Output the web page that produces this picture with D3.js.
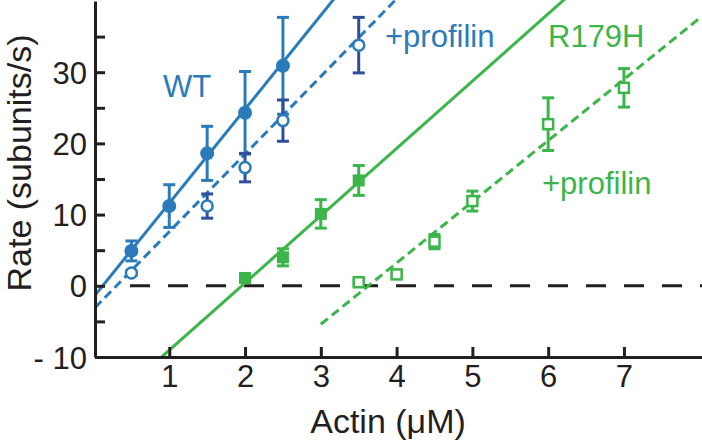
<!DOCTYPE html>
<html>
<head>
<meta charset="utf-8">
<script src="https://cdn.jsdelivr.net/npm/d3@7"></script>
<style>
  body { margin: 0; background: #fff; }
  svg { display: block; }
  text { font-family: "Liberation Sans", Arial, Helvetica, sans-serif; }
</style>
</head>
<body>
<svg id="chart" width="702" height="444"></svg>
<script>
// ---- data ----
const wtX = [0.5, 1, 1.5, 2, 2.5];
const wtY = [4.9, 11.2, 18.6, 24.3, 30.9];
const wtErr = [1.4, 3.0, 3.8, 5.8, 6.8];

const wtProfX = [0.5, 1.5, 2, 2.5, 3.5];
const wtProfY = [1.8, 11.2, 16.6, 23.2, 33.8];
const wtProfErr = [0.3, 1.7, 2.0, 2.9, 3.9];

const mutX = [2, 2.5, 3, 3.5];
const mutY = [1.1, 4.0, 10.1, 14.8];
const mutErr = [0.3, 1.2, 2.0, 2.1];

const mutProfX = [3.5, 4, 4.5, 5, 6, 7];
const mutProfY = [0.5, 1.6, 6.2, 11.9, 22.7, 27.8];
const mutProfErr = [0.2, 0.3, 1.0, 1.4, 3.7, 2.7];

// linear fits: [slope, intercept, xStart, xEnd]
const wtFit = [13.2, -1.6, 0.02, 3.3];
const wtProfFit = [10.9, -3.3, 0.02, 4.1];
const mutFit = [9.45, -18.5, 0.9, 6.3];
const mutProfFit = [8.6, -31.2, 3.0, 8.03];

const xTicks = [1, 2, 3, 4, 5, 6, 7];
const yTicks = [-10, -5, 0, 5, 10, 15, 20, 25, 30, 35];
const yTickLabels = { "-10": "- 10", "0": "0", "10": "10", "20": "20", "30": "30" };

// ---- styles ----
const BLUE = "#2b7bbb";
const DARKBLUE = "#2d4f9e";
const GREEN = "#3cb54a";
const INK = "#231f20";

const svg = d3.select("#chart");
const x = d3.scaleLinear().domain([0.02, 8.03]).range([95, 702]);
const y = d3.scaleLinear().domain([-10, 40]).range([357, 1]);

svg.append("defs").append("clipPath").attr("id", "plot")
  .append("rect").attr("x", x(0.02)).attr("y", 0)
  .attr("width", 702 - x(0.02)).attr("height", y(-10));

// zero reference line
svg.append("line")
  .attr("x1", 130).attr("x2", 702)
  .attr("y1", y(0)).attr("y2", y(0))
  .attr("stroke", INK).attr("stroke-width", 3)
  .attr("stroke-dasharray", "20,18");

// fit lines
const plotG = svg.append("g").attr("clip-path", "url(#plot)");
function fitLine(fit, color, dashed) {
  const pts = [fit[2], fit[3]].map(v => [v, fit[0] * v + fit[1]]);
  plotG.append("path")
    .attr("d", d3.line().x(d => x(d[0])).y(d => y(d[1]))(pts))
    .attr("fill", "none").attr("stroke", color).attr("stroke-width", 3)
    .attr("stroke-dasharray", dashed ? "9,5" : null);
}
fitLine(wtFit, BLUE, false);
fitLine(wtProfFit, BLUE, true);
fitLine(mutFit, GREEN, false);
fitLine(mutProfFit, GREEN, true);

// error bars
function errBars(xs, ys, es, color) {
  const g = svg.append("g").attr("stroke", color).attr("stroke-width", 3).attr("fill", "none");
  xs.forEach((xv, i) => {
    const cx = x(xv), top = y(ys[i] + es[i]), bot = y(ys[i] - es[i]);
    g.append("line").attr("x1", cx).attr("x2", cx).attr("y1", top).attr("y2", bot);
    g.append("line").attr("x1", cx - 6).attr("x2", cx + 6).attr("y1", top).attr("y2", top);
    g.append("line").attr("x1", cx - 6).attr("x2", cx + 6).attr("y1", bot).attr("y2", bot);
  });
}
errBars(wtX, wtY, wtErr, BLUE);
errBars(wtProfX, wtProfY, wtProfErr, DARKBLUE);
errBars(mutX, mutY, mutErr, GREEN);
errBars(mutProfX, mutProfY, mutProfErr, GREEN);

// markers
svg.append("g").selectAll("circle").data(wtX).join("circle")
  .attr("cx", d => x(d)).attr("cy", (d, i) => y(wtY[i])).attr("r", 7)
  .attr("fill", BLUE);
svg.append("g").selectAll("circle").data(wtProfX).join("circle")
  .attr("cx", d => x(d)).attr("cy", (d, i) => y(wtProfY[i])).attr("r", 5.5)
  .attr("fill", "#fff").attr("stroke", BLUE).attr("stroke-width", 2.5);
svg.append("g").selectAll("rect").data(mutX).join("rect")
  .attr("x", d => x(d) - 6).attr("y", (d, i) => y(mutY[i]) - 6)
  .attr("width", 12).attr("height", 12).attr("fill", GREEN);
svg.append("g").selectAll("rect").data(mutProfX).join("rect")
  .attr("x", d => x(d) - 5).attr("y", (d, i) => y(mutProfY[i]) - 5)
  .attr("width", 10).attr("height", 10)
  .attr("fill", "#fff").attr("stroke", GREEN).attr("stroke-width", 2.5);

// axes
const xAxis = svg.append("g").attr("transform", `translate(0,${y(-10)})`)
  .call(d3.axisBottom(x).tickValues(xTicks).tickSize(-10).tickSizeOuter(0).tickPadding(0));
xAxis.select(".domain").attr("stroke", INK).attr("stroke-width", 3);
xAxis.selectAll(".tick line").attr("stroke", INK).attr("stroke-width", 3);
xAxis.selectAll(".tick text").attr("y", 30).attr("dy", 0)
  .attr("fill", INK).style("font-size", "31px");

const yAxis = svg.append("g").attr("transform", `translate(${x(0.02)},0)`)
  .call(d3.axisLeft(y).tickValues(yTicks).tickSize(-10).tickSizeOuter(0)
    .tickFormat(d => yTickLabels[String(d)] || ""));
yAxis.select(".domain").attr("stroke", INK).attr("stroke-width", 3);
yAxis.selectAll(".tick line").attr("stroke", INK).attr("stroke-width", 3);
yAxis.selectAll(".tick text").attr("x", -8).attr("dy", "0.36em")
  .attr("fill", INK).style("font-size", "31px");

// axis titles
svg.append("text").attr("x", 388).attr("y", 433).attr("text-anchor", "middle")
  .attr("fill", INK).style("font-size", "34px").text("Actin (μM)");
svg.append("text").attr("transform", "translate(31,163) rotate(-90)")
  .attr("text-anchor", "middle").attr("fill", INK).style("font-size", "34px")
  .text("Rate (subunits/s)");

// series labels
svg.append("text").attr("x", 163).attr("y", 97).attr("fill", BLUE)
  .style("font-size", "31px").text("WT");
svg.append("text").attr("x", 385).attr("y", 47).attr("fill", BLUE)
  .style("font-size", "31px").text("+profilin");
svg.append("text").attr("x", 548).attr("y", 47).attr("fill", GREEN)
  .style("font-size", "31px").text("R179H");
svg.append("text").attr("x", 542).attr("y", 194).attr("fill", GREEN)
  .style("font-size", "31px").text("+profilin");
</script>
</body>
</html>
